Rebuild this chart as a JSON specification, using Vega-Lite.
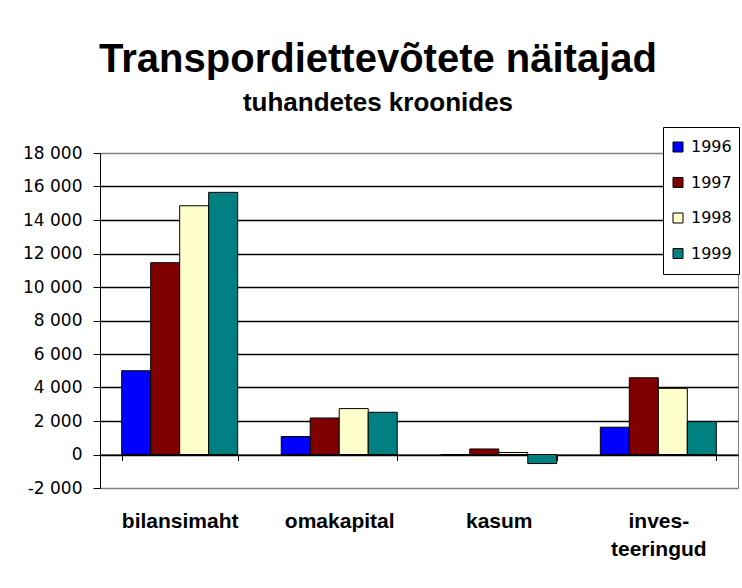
{
  "$schema": "https://vega.github.io/schema/vega-lite/v6.json",
  "width": 638,
  "height": 335,
  "autosize": {"type": "none"},
  "padding": {"left": 100, "top": 153, "right": 4, "bottom": 100},
  "background": "white",
  "title": {
    "text": "Transpordiettevõtete näitajad",
    "subtitle": "tuhandetes kroonides",
    "anchor": "middle",
    "frame": "group",
    "dx": -41,
    "offset": 11,
    "font": "Liberation Sans",
    "fontSize": 40,
    "fontWeight": "bold",
    "color": "black",
    "subtitleFont": "Liberation Sans",
    "subtitleFontSize": 26,
    "subtitleFontWeight": "bold",
    "subtitleColor": "black",
    "subtitlePadding": 10
  },
  "data": {
    "values": [
      {"category": "bilansimaht", "year": "1996", "value": 5000},
      {"category": "bilansimaht", "year": "1997", "value": 11450},
      {"category": "bilansimaht", "year": "1998", "value": 14850},
      {"category": "bilansimaht", "year": "1999", "value": 15650},
      {"category": "omakapital", "year": "1996", "value": 1070},
      {"category": "omakapital", "year": "1997", "value": 2180},
      {"category": "omakapital", "year": "1998", "value": 2740},
      {"category": "omakapital", "year": "1999", "value": 2520},
      {"category": "kasum", "year": "1996", "value": 0},
      {"category": "kasum", "year": "1997", "value": 330},
      {"category": "kasum", "year": "1998", "value": 120},
      {"category": "kasum", "year": "1999", "value": -540},
      {"category": "investeeringud", "year": "1996", "value": 1630},
      {"category": "investeeringud", "year": "1997", "value": 4580},
      {"category": "investeeringud", "year": "1998", "value": 3950},
      {"category": "investeeringud", "year": "1999", "value": 1960}
    ]
  },
  "mark": {"type": "bar", "stroke": "black", "strokeWidth": 1},
  "encoding": {
    "x": {
      "field": "category",
      "type": "nominal",
      "sort": ["bilansimaht", "omakapital", "kasum", "investeeringud"],
      "scale": {"paddingInner": 0.273, "paddingOuter": 0.136},
      "axis": {
        "title": null,
        "orient": "bottom",
        "offset": -33.5,
        "domainColor": "black",
        "domainWidth": 1,
        "tickColor": "black",
        "tickSize": 6,
        "tickBand": "extent",
        "labelAngle": 0,
        "labelFont": "Liberation Sans",
        "labelFontSize": 21,
        "labelFontWeight": "bold",
        "labelColor": "black",
        "labelPadding": 67,
        "labelBaseline": "alphabetic",
        "labelLineHeight": 28,
        "labelOverlap": false,
        "labelExpr": "datum.label == 'investeeringud' ? ['inves-', 'teeringud'] : datum.label"
      }
    },
    "xOffset": {
      "field": "year",
      "type": "nominal",
      "scale": {"paddingInner": 0, "paddingOuter": 0}
    },
    "y": {
      "field": "value",
      "type": "quantitative",
      "scale": {"domain": [-2000, 18000], "nice": false, "zero": false},
      "axis": {
        "title": null,
        "values": [-2000, 0, 2000, 4000, 6000, 8000, 10000, 12000, 14000, 16000, 18000],
        "format": ",.0f",
        "domainColor": "black",
        "tickColor": "black",
        "tickSize": 7,
        "labelFont": "DejaVu Sans",
        "labelFontSize": 17,
        "labelColor": "black",
        "labelPadding": 11,
        "grid": true,
        "gridColor": {"condition": {"test": "datum.value == 18000 || datum.value == -2000", "value": "#808080"}, "value": "black"},
        "gridWidth": 1.3
      }
    },
    "color": {
      "field": "year",
      "type": "nominal",
      "scale": {"domain": ["1996", "1997", "1998", "1999"], "range": ["#0000FF", "#800000", "#FFFFCC", "#008080"]},
      "legend": {
        "title": null,
        "orient": "none",
        "legendX": 563,
        "legendY": -26,
        "direction": "vertical",
        "strokeColor": "black",
        "fillColor": "white",
        "padding": 7,
        "symbolType": "square",
        "symbolSize": 100,
        "symbolStrokeColor": "black",
        "symbolStrokeWidth": 1,
        "labelFont": "DejaVu Sans",
        "labelFontSize": 16,
        "labelColor": "black",
        "labelOffset": 5,
        "clipHeight": 26,
        "rowPadding": 9.5
      }
    }
  },
  "config": {
    "locale": {"number": {"decimal": ",", "thousands": " ", "grouping": [3], "currency": ["", ""], "minus": "-"}},
    "view": {"stroke": "#808080", "strokeWidth": 1}
  }
}
